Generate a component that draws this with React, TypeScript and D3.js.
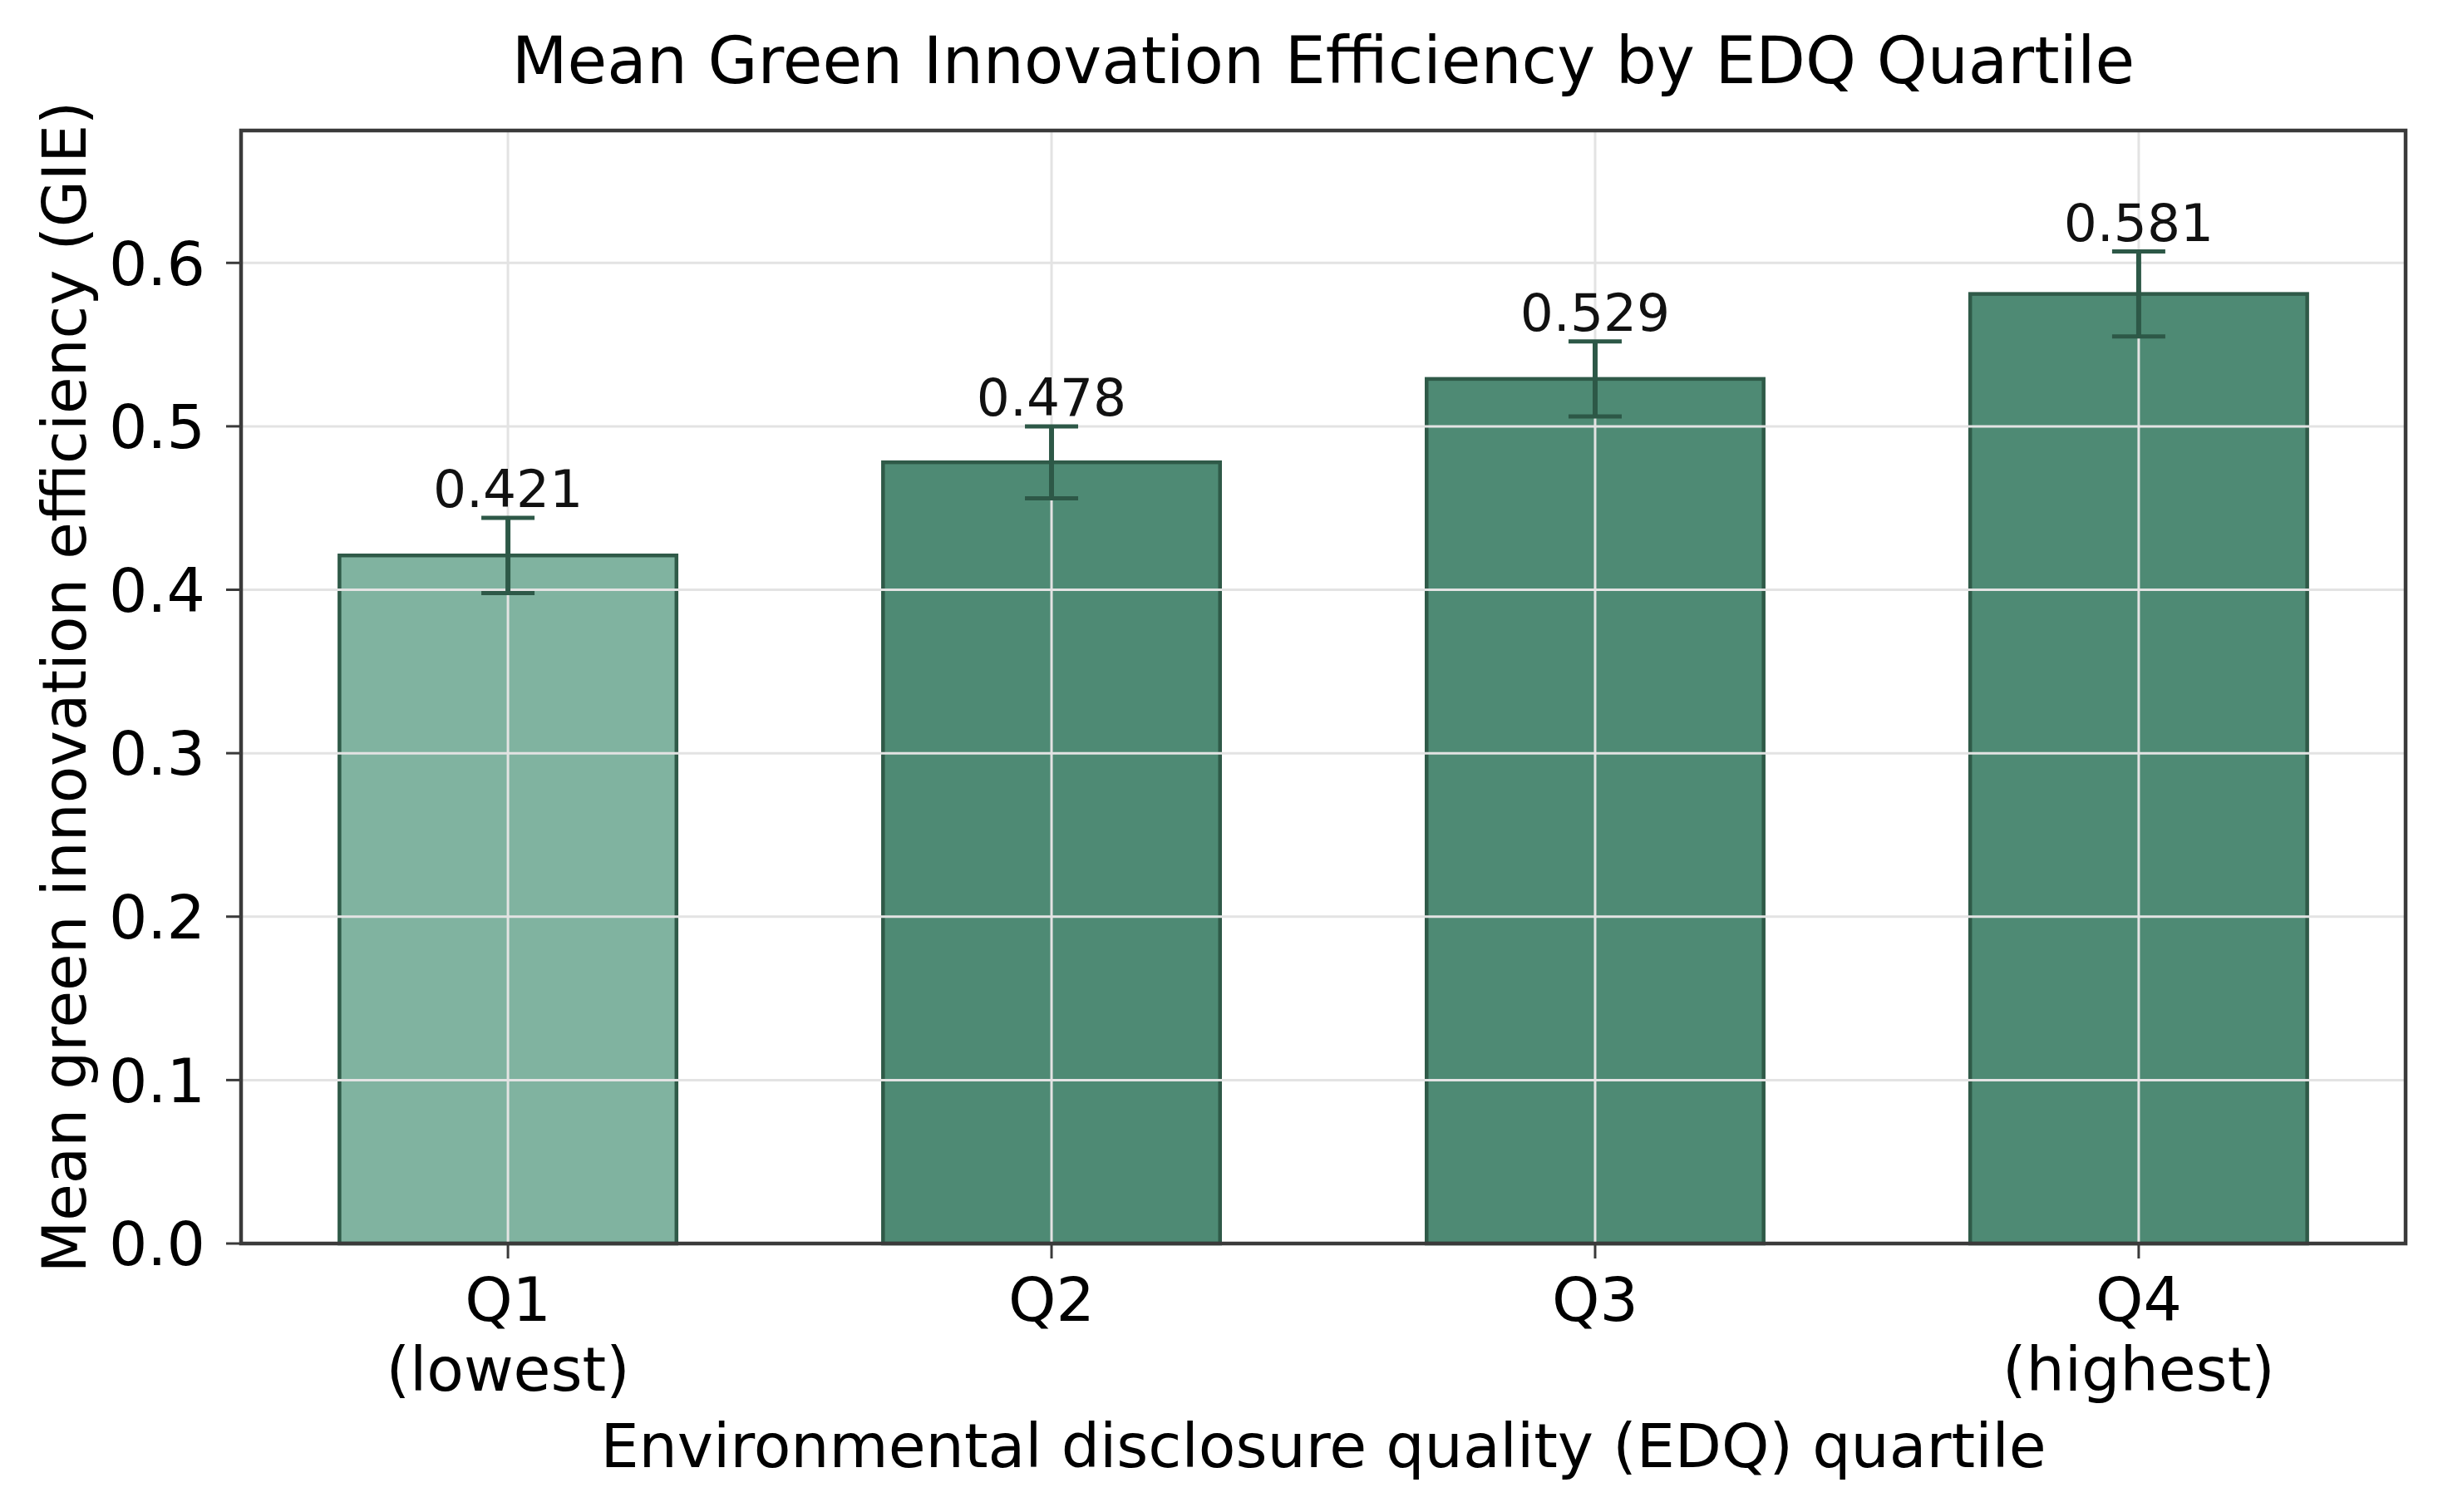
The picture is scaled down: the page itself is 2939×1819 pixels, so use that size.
import React from "react";
import * as d3 from "d3";

const categories: string[][] = [["Q1", "(lowest)"], ["Q2"], ["Q3"], ["Q4", "(highest)"]];
const means: number[] = [0.421, 0.478, 0.529, 0.581];
const errors: number[] = [0.023, 0.022, 0.023, 0.026];
const fills: string[] = ["#80b3a0", "#4e8a74", "#4e8a74", "#4e8a74"];
const yTicks: number[] = [0, 0.1, 0.2, 0.3, 0.4, 0.5, 0.6];
const title = "Mean Green Innovation Efficiency by EDQ Quartile";
const xLabel = "Environmental disclosure quality (EDQ) quartile";
const yLabel = "Mean green innovation efficiency (GIE)";

const W = 2939;
const H = 1819;
const L = 290, R = 2894, T = 157, B = 1496;
const barW = 0.62;
const FONT = "'DejaVu Sans', sans-serif";

export default function App() {
  const x = d3.scaleLinear().domain([-0.491, 3.491]).range([L, R]);
  const y = d3.scaleLinear().domain([0, 0.681]).range([B, T]);
  const edge = "#2f5a48";
  const errC = "#2d5847";
  const grid = "#e3e3e3";
  const spine = "#3a3a3a";
  const cx = (L + R) / 2;
  return (
    <svg width={W} height={H} style={{ position: "absolute", left: 0, top: 0, background: "#fff" }} fontFamily={FONT}>
      <rect x={0} y={0} width={W} height={H} fill="#fff" />
      {means.map((m, i) => (
        <rect key={"b" + i} x={x(i - barW / 2)} y={y(m)} width={x(barW) - x(0)} height={y(0) - y(m)}
          fill={fills[i]} stroke={edge} strokeWidth={4.5} />
      ))}
      {yTicks.map((t) => (
        <line key={"gy" + t} x1={L} x2={R} y1={y(t)} y2={y(t)} stroke={grid} strokeWidth={3} />
      ))}
      {means.map((_, i) => (
        <line key={"gx" + i} x1={x(i)} x2={x(i)} y1={T} y2={B} stroke={grid} strokeWidth={3} />
      ))}
      {means.map((m, i) => (
        <g key={"e" + i} stroke={errC}>
          <line x1={x(i)} x2={x(i)} y1={y(m - errors[i])} y2={y(m + errors[i])} strokeWidth={6} />
          <line x1={x(i) - 32} x2={x(i) + 32} y1={y(m + errors[i])} y2={y(m + errors[i])} strokeWidth={5} />
          <line x1={x(i) - 32} x2={x(i) + 32} y1={y(m - errors[i])} y2={y(m - errors[i])} strokeWidth={5} />
        </g>
      ))}
      {means.map((m, i) => (
        <text key={"v" + i} x={x(i)} y={y(m + errors[i]) - 13} textAnchor="middle" fontSize={63} fill="#111">
          {m.toFixed(3)}
        </text>
      ))}
      <rect x={L} y={T} width={R - L} height={B - T} fill="none" stroke={spine} strokeWidth={4.5} />
      {yTicks.map((t) => (
        <g key={"yt" + t}>
          <line x1={L - 18} x2={L} y1={y(t)} y2={y(t)} stroke={spine} strokeWidth={3} />
          <text x={247} y={y(t)} dy="0.36em" textAnchor="end" fontSize={73} fill="#000">
            {t.toFixed(1)}
          </text>
        </g>
      ))}
      {categories.map((c, i) => (
        <g key={"xt" + i}>
          <line x1={x(i)} x2={x(i)} y1={B} y2={B + 18} stroke={spine} strokeWidth={3} />
          {c.map((line, j) => (
            <text key={j} x={x(i)} y={1589 + j * 84} textAnchor="middle" fontSize={73} fill="#000">
              {line}
            </text>
          ))}
        </g>
      ))}
      <text x={cx} y={100} textAnchor="middle" fontSize={77.5} fill="#000">{title}</text>
      <text x={cx} y={1765} textAnchor="middle" fontSize={73} fill="#000">{xLabel}</text>
      <text transform={`translate(103, ${(T + B) / 2}) rotate(-90)`} textAnchor="middle" fontSize={72.5} fill="#000">
        {yLabel}
      </text>
    </svg>
  );
}
